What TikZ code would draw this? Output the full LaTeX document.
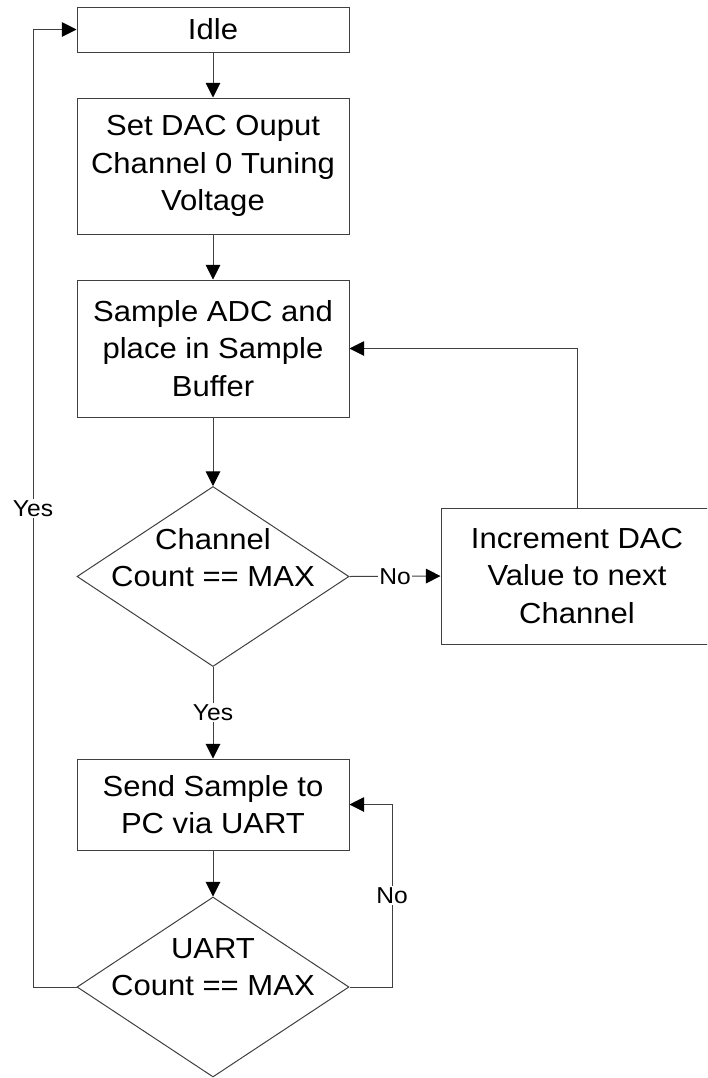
\documentclass[tikz,border=0pt]{standalone}
\usepackage{fontspec}
\setmainfont{Liberation Sans}[FakeStretch=1.07]
\usetikzlibrary{shapes.geometric,arrows.meta}
\definecolor{linegray}{HTML}{404040}
\tikzset{
  px/.style={x=0.75pt,y=-0.75pt},
  boxtext/.style={font=\fontsize{21.75}{28.125}\selectfont},
  procbox/.style={draw=linegray,line width=0.75pt,minimum width=204pt,inner sep=0pt,align=center,boxtext},
  decision/.style={draw=linegray,line width=0.75pt,shape=diamond,inner sep=0pt,minimum width=204pt,minimum height=135pt},
  dtext/.style={align=center,boxtext,inner sep=0pt},
  conn/.style={draw=linegray,line width=0.75pt},
  arr/.style={conn,-{Triangle[length=11pt,width=11pt,fill=black,color=black]}},
  lbl/.style={fill=white,inner sep=1pt,font=\fontsize{17.25}{20}\selectfont}
}
\begin{document}
\begin{tikzpicture}[px]
\useasboundingbox (0,0) rectangle (707,1078);
\clip (0,0) rectangle (707,1078);
\node[procbox,minimum height=33.75pt] (idle) at (213,29.5) {Idle};
\node[procbox,minimum height=102pt] (setdac) at (213,166) {Set DAC Ouput\\Channel 0 Tuning\\Voltage};
\node[procbox,minimum height=102.75pt] (sample) at (213,348.5) {Sample ADC and\\place in Sample\\Buffer};
\node[decision,label={[dtext,name=d1t,yshift=14.25pt]center:Channel\\Count == MAX}] (d1) at (213,576.5) {};
\node[procbox,minimum height=102pt] (inc) at (577,576) {Increment DAC\\Value to next\\Channel};
\node[procbox,minimum height=68.25pt] (send) at (213,804.5) {Send Sample to\\PC via UART};
\node[decision,label={[dtext,name=d2t,yshift=15pt]center:UART\\Count == MAX}] (d2) at (213,987) {};
\coordinate (rloop) at (392,987);
\coordinate (lloop) at (33,987);
\draw[arr] (idle.south) -- (setdac.north);
\draw[arr] (setdac.south) -- (sample.north);
\draw[arr] (sample.south) -- (d1.north);
\draw[arr] (d1.east) -- node[lbl]{No} (inc.west);
\draw[arr] (inc.north) |- (sample.east);
\draw[arr] (d1.south) -- node[lbl]{Yes} (send.north);
\draw[arr] (send.south) -- (d2.north);
\draw[arr] (d2.east) -- (rloop) -- node[lbl]{No} (rloop |- send.east) -- (send.east);
\draw[arr] (d2.west) -- (lloop) -- node[lbl]{Yes} (lloop |- idle.west) -- (idle.west);
\end{tikzpicture}
\end{document}
